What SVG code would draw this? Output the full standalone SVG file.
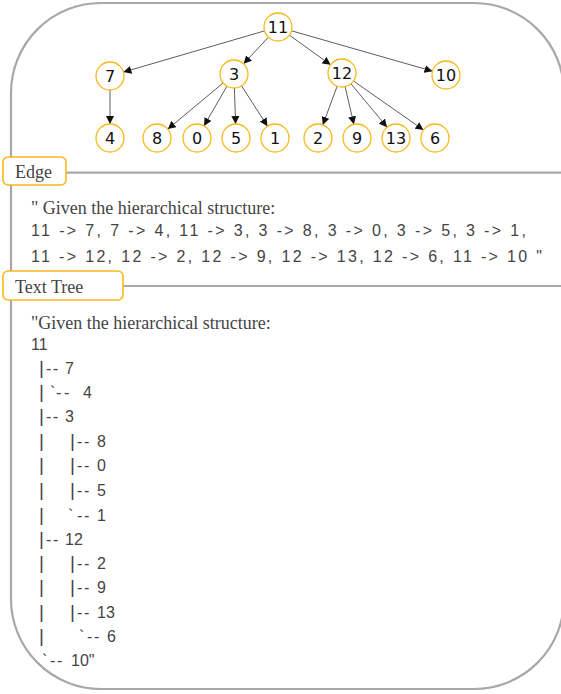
<svg xmlns="http://www.w3.org/2000/svg" width="561" height="694" viewBox="0 0 561 694">
<style>
.frame{fill:none;stroke:#a8a8a8;stroke-width:2.2}
.sep{stroke:#a8a8a8;stroke-width:2.2}
.box{fill:#fff;stroke:#f7b918;stroke-width:1.6}
.node circle{fill:#fff;stroke:#f7b918;stroke-width:1.3}
.node text{font-family:"DejaVu Sans","Liberation Sans",sans-serif;font-size:16px;fill:#111;text-anchor:middle}
.edge{stroke:#333;stroke-width:0.8;fill:none;marker-end:url(#arr)}
.serif{font-family:"Liberation Serif","Times New Roman",serif;font-size:18px;fill:#444}
.hand{font-family:"Liberation Sans",Arial,sans-serif;font-size:16px;fill:#444}
.bar{font-family:"Liberation Sans",Arial,sans-serif;font-size:19px;fill:#444}
</style>
<defs>
<marker id="arr" viewBox="0 0 10 10" refX="10" refY="5" markerWidth="8" markerHeight="8" markerUnits="userSpaceOnUse" orient="auto">
<path d="M0,0 L10,5 L0,10 z" fill="#111"/>
</marker>
</defs>
<rect class="frame" x="11" y="3" width="553" height="686" rx="90" ry="90"/>
<line class="sep" x1="66" y1="172.7" x2="561" y2="172.7"/>
<line class="sep" x1="123" y1="286" x2="561" y2="286"/>
<g id="connectors">
<line class="edge" x1="264.6" y1="30.9" x2="123.4" y2="72.1"/>
<line class="edge" x1="268.4" y1="37.2" x2="243.6" y2="63.8"/>
<line class="edge" x1="289.4" y1="35.2" x2="330.6" y2="64.8"/>
<line class="edge" x1="291.5" y1="30.8" x2="432.5" y2="71.2"/>
<line class="edge" x1="110" y1="90" x2="110" y2="124"/>
<line class="edge" x1="223.2" y1="82.9" x2="167.8" y2="129.1"/>
<line class="edge" x1="227" y1="86.1" x2="204" y2="125.9"/>
<line class="edge" x1="234.4" y1="88" x2="235.6" y2="124"/>
<line class="edge" x1="241.5" y1="85.8" x2="267.5" y2="126.2"/>
<line class="edge" x1="337.2" y1="86.1" x2="322.8" y2="124.9"/>
<line class="edge" x1="345.1" y1="86.6" x2="353.9" y2="124.4"/>
<line class="edge" x1="351" y1="83.8" x2="387" y2="127.2"/>
<line class="edge" x1="353.5" y1="81" x2="423.5" y2="130"/>
</g>
<g id="n11" class="node"><circle cx="278" cy="27" r="14"/><text x="278" y="33">11</text></g>
<g id="n7" class="node"><circle cx="110" cy="76" r="14"/><text x="110" y="82">7</text></g>
<g id="n3" class="node"><circle cx="234" cy="74" r="14"/><text x="234" y="80">3</text></g>
<g id="n12" class="node"><circle cx="342" cy="73" r="14"/><text x="342" y="79">12</text></g>
<g id="n10" class="node"><circle cx="446" cy="75" r="14"/><text x="446" y="81">10</text></g>
<g id="n4" class="node"><circle cx="110" cy="138" r="14"/><text x="110" y="144">4</text></g>
<g id="n8" class="node"><circle cx="157" cy="138" r="14"/><text x="157" y="144">8</text></g>
<g id="n0" class="node"><circle cx="197" cy="138" r="14"/><text x="197" y="144">0</text></g>
<g id="n5" class="node"><circle cx="236" cy="138" r="14"/><text x="236" y="144">5</text></g>
<g id="n1" class="node"><circle cx="275" cy="138" r="14"/><text x="275" y="144">1</text></g>
<g id="n2" class="node"><circle cx="318" cy="138" r="14"/><text x="318" y="144">2</text></g>
<g id="n9" class="node"><circle cx="357" cy="138" r="14"/><text x="357" y="144">9</text></g>
<g id="n13" class="node"><circle cx="396" cy="138" r="14"/><text x="396" y="144">13</text></g>
<g id="n6" class="node"><circle cx="435" cy="138" r="14"/><text x="435" y="144">6</text></g>
<g id="edge-label">
<rect class="box" x="3" y="157" width="63" height="28" rx="5"/>
<text class="serif" x="15" y="178">Edge</text>
</g>
<g id="edge-text">
<text class="serif" x="31" y="214">" Given the hierarchical structure:</text>
<text class="hand" x="31" y="236" textLength="495" lengthAdjust="spacing">11 -&gt; 7, 7 -&gt; 4, 11 -&gt; 3, 3 -&gt; 8, 3 -&gt; 0, 3 -&gt; 5, 3 -&gt; 1,</text>
<text class="hand" x="31" y="262" textLength="511" lengthAdjust="spacing">11 -&gt; 12, 12 -&gt; 2, 12 -&gt; 9, 12 -&gt; 13, 12 -&gt; 6, 11 -&gt; 10 "</text>
</g>
<g id="tree-label">
<rect class="box" x="3" y="271" width="120" height="29" rx="5"/>
<text class="serif" x="15" y="293">Text Tree</text>
</g>
<g id="tree-text" class="hand">
<text class="serif" x="31" y="329">"Given the hierarchical structure:</text>
<text x="31" y="350">11</text>
<text y="374"><tspan class="bar" x="39">|</tspan><tspan x="46 53">--</tspan><tspan x="65">7</tspan></text>
<text y="398"><tspan class="bar" x="39">|</tspan><tspan x="50">`</tspan><tspan x="56 64">--</tspan><tspan x="83">4</tspan></text>
<text y="422"><tspan class="bar" x="39">|</tspan><tspan x="46 53">--</tspan><tspan x="65">3</tspan></text>
<text y="447"><tspan class="bar" x="39">|</tspan><tspan class="bar" x="70">|</tspan><tspan x="77 84">--</tspan><tspan x="97">8</tspan></text>
<text y="471"><tspan class="bar" x="39">|</tspan><tspan class="bar" x="70">|</tspan><tspan x="77 84">--</tspan><tspan x="97">0</tspan></text>
<text y="496"><tspan class="bar" x="39">|</tspan><tspan class="bar" x="70">|</tspan><tspan x="77 84">--</tspan><tspan x="97">5</tspan></text>
<text y="521"><tspan class="bar" x="39">|</tspan><tspan x="68">`</tspan><tspan x="77 84">--</tspan><tspan x="97">1</tspan></text>
<text y="545"><tspan class="bar" x="39">|</tspan><tspan x="46 53">--</tspan><tspan x="65">12</tspan></text>
<text y="569"><tspan class="bar" x="39">|</tspan><tspan class="bar" x="70">|</tspan><tspan x="77 84">--</tspan><tspan x="97">2</tspan></text>
<text y="593"><tspan class="bar" x="39">|</tspan><tspan class="bar" x="70">|</tspan><tspan x="77 84">--</tspan><tspan x="97">9</tspan></text>
<text y="618"><tspan class="bar" x="39">|</tspan><tspan class="bar" x="70">|</tspan><tspan x="77 84">--</tspan><tspan x="97">13</tspan></text>
<text y="642"><tspan class="bar" x="39">|</tspan><tspan x="79">`</tspan><tspan x="87 94">--</tspan><tspan x="107">6</tspan></text>
<text y="666"><tspan x="42">`</tspan><tspan x="50 57">--</tspan><tspan x="71">10"</tspan></text>
</g>
</svg>
